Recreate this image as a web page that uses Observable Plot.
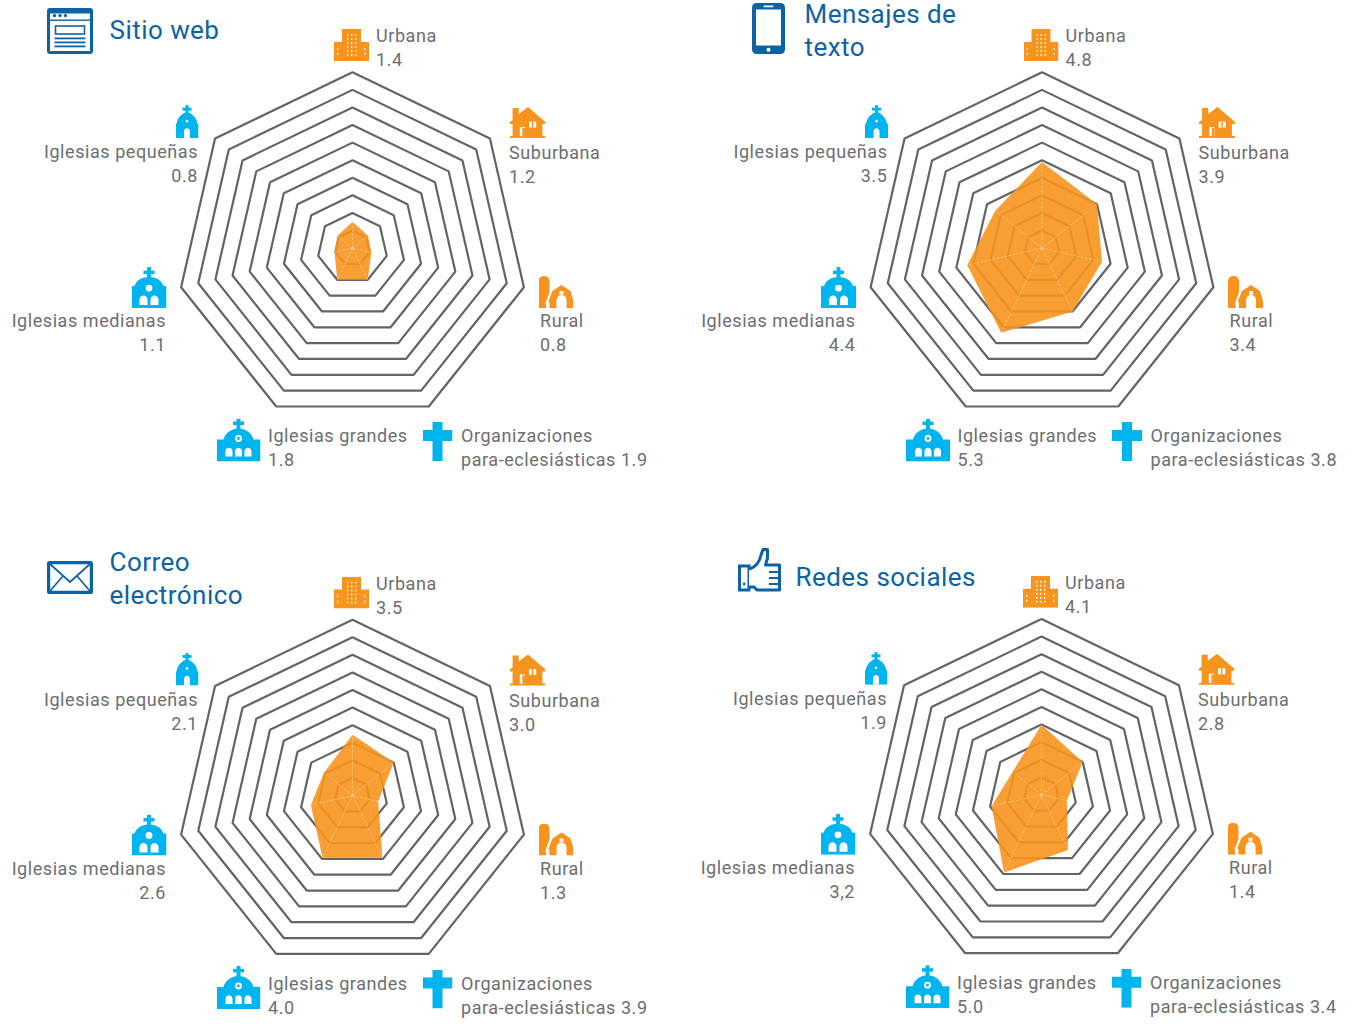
<!DOCTYPE html>
<html lang="es">
<head>
<meta charset="utf-8">
<script src="https://cdn.jsdelivr.net/npm/d3@7"></script>
<script src="https://cdn.jsdelivr.net/npm/@observablehq/plot@0.6"></script>
<style>
html,body{margin:0;padding:0;background:#fff}
svg{display:block}
g[font-size="18"] text{letter-spacing:.56px}
g[font-size="26"] text{letter-spacing:.46px}
</style>
</head>
<body>
<div id="chart"></div>
<script>
const categories = ["Urbana","Suburbana","Rural","Organizaciones\npara-eclesiásticas","Iglesias grandes","Iglesias medianas","Iglesias pequeñas"];
const panelNames = ["Sitio web","Mensajes de\ntexto","Correo\nelectrónico","Redes sociales"];
// values printed next to the axes
const sitioWeb = [1.4,1.2,0.8,1.9,1.8,1.1,0.8];
const mensajesDeTexto = [4.8,3.9,3.4,3.8,5.3,4.4,3.5];
const correoElectronico = [3.5,3.0,1.3,3.9,4.0,2.6,2.1];
const redesSociales = [4.1,2.8,1.4,3.4,5.0,3.2,1.9];
// radii of the orange shapes (they differ a little from the printed values)
const sitioWebShape = [1.5,1.13,1.1,2.0,2.0,1.05,1.1];
const mensajesShape = [4.9,4.0,3.5,4.0,5.35,4.36,3.4];
const correoShape = [3.45,3.0,1.5,3.92,3.93,2.43,2.07];
const redesShape = [3.98,3.0,1.48,3.48,4.91,2.91,2.1];
const ringLevels = [1,2,3,4,5,6,7,8,9,10];

const W = 1354, H = 1024, U = 17.58;
const ORANGE = "#f7941d", CYAN = "#00b5ef", BLUE = "#0b63a5", GREY = "#6d6e71", RING = "#636466";
const printed = [sitioWeb, mensajesDeTexto, correoElectronico, redesSociales];
const shapes = [sitioWebShape, mensajesShape, correoShape, redesShape];
const centers = [[352,247.6],[1041.5,247.6],[352,795],[1041,794.3]];
const pt = (p, v, k) => {
  const a = 2*Math.PI*k/7;
  return {x:(centers[p][0])/U + v*Math.sin(a), y:(centers[p][1])/U - v*Math.cos(a)};
};
const fmt = (p, k, v) => (p===3 && k===5) ? v.toFixed(1).replace(".",",") : v.toFixed(1);

// ---- icons
const uri = (w,h,body) => "data:image/svg+xml," + encodeURIComponent(`<svg xmlns="http://www.w3.org/2000/svg" viewBox="0 0 ${w} ${h}">${body}</svg>`);
const icoUrbana = uri(35,32,`<path fill="${ORANGE}" d="M0 13H8V0H27V13H35V32H0Z"/><g fill="#fff" opacity=".85"><rect x="13" y="5" width="1.4" height="2"/><rect x="17" y="5" width="1.4" height="2"/><rect x="21" y="5" width="1.4" height="2"/><rect x="13" y="9" width="1.4" height="2"/><rect x="17" y="9" width="1.4" height="2"/><rect x="21" y="9" width="1.4" height="2"/><rect x="13" y="13" width="1.4" height="2"/><rect x="17" y="13" width="1.4" height="2"/><rect x="21" y="13" width="1.4" height="2"/><rect x="13" y="17" width="1.4" height="2"/><rect x="17" y="17" width="1.4" height="2"/><rect x="21" y="17" width="1.4" height="2"/><rect x="13" y="21" width="1.4" height="2"/><rect x="17" y="21" width="1.4" height="2"/><rect x="21" y="21" width="1.4" height="2"/><rect x="13" y="25" width="1.4" height="2"/><rect x="17" y="25" width="1.4" height="2"/><rect x="21" y="25" width="1.4" height="2"/><rect x="3" y="19" width="1.4" height="2"/><rect x="3" y="24" width="1.4" height="2"/><rect x="30" y="19" width="1.4" height="2"/><rect x="30" y="24" width="1.4" height="2"/></g>`);
const icoSuburbana = uri(35,32,`<path fill="${ORANGE}" d="M0 15L3 13V1H9V7L18 0L35 15V17H32V29H35V31H0V29H3V17H0Z"/><rect x="10" y="20" width="5" height="9" fill="#fff"/><rect x="12.5" y="21" width="2.5" height="8" fill="${ORANGE}"/><rect x="19" y="14.5" width="7" height="6" fill="#fff"/><rect x="21.8" y="14.5" width="1.4" height="6" fill="${ORANGE}"/>`);
const icoRural = uri(35,32,`<path fill="${ORANGE}" d="M0 32V6C0 2 2 0 5.5 0C9 0 11 2 11 6V16L7 27L8 32Z"/><path fill="${ORANGE}" d="M10 25L14 15L23 9L32 15L35 25V32H28V24A5 5 0 0 0 18 24V32H11V27Z"/><rect x="21" y="15" width="4" height="3.5" fill="#fff"/>`);
const icoSmall = uri(23,33,`<g fill="${CYAN}"><rect x="10" y="0" width="3" height="9"/><rect x="7" y="2.5" width="9" height="3"/><path d="M0 33V19H1C2 12 7 8 11.5 7C16 8 21 12 22 19H23V33Z"/></g><circle cx="11.5" cy="16" r="1.3" fill="#fff"/><path fill="#fff" d="M8.5 33V27C8.5 22 14.5 22 14.5 27V33Z"/>`);
const icoMedium = uri(35,41,`<g fill="${CYAN}"><rect x="15.5" y="0" width="4" height="12"/><rect x="12" y="3.5" width="11" height="3.5"/><path d="M0 41V19H3C5 13 11 10 17.5 10C24 10 30 13 32 19H35V41Z"/></g><circle cx="17.5" cy="21" r="3.4" fill="#fff"/><path fill="#fff" d="M8 38V33C8 27 16 27 16 33V38ZM19 38V33C19 27 27 27 27 33V38Z"/>`);
const icoLarge = uri(44,43,`<g fill="${CYAN}"><rect x="20" y="0" width="4" height="11"/><rect x="16.5" y="3" width="11" height="3.5"/><path d="M0 43V21H7C9 14 15 10 22 10C29 10 35 14 37 21H44V43Z"/></g><circle cx="22" cy="20" r="3.4" fill="#fff"/><circle cx="22" cy="20" r="1.4" fill="${CYAN}"/><path fill="#fff" d="M9 38V33C9 28 16 28 16 33V38ZM18.5 38V33C18.5 28 25.5 28 25.5 33V38ZM28 38V33C28 28 35 28 35 33V38Z"/>`);
const icoCross = uri(30,39,`<path fill="${CYAN}" d="M10 0H20V8H30V19H20V39H10V19H0V8H10Z"/>`);
const icoWeb = uri(46,46,`<rect x="1.5" y="1.5" width="43" height="43" rx="1.5" fill="#fff" stroke="${BLUE}" stroke-width="3"/><rect x="2" y="2" width="42" height="3.5" fill="${BLUE}"/><rect x="2" y="11.5" width="42" height="1.4" fill="${BLUE}"/><circle cx="7.5" cy="7.6" r="1.7" fill="${BLUE}"/><circle cx="13" cy="7.6" r="1.7" fill="${BLUE}"/><circle cx="18.5" cy="7.6" r="1.7" fill="${BLUE}"/><rect x="8.5" y="18" width="29" height="8" fill="none" stroke="${BLUE}" stroke-width="1.6"/><rect x="7.5" y="29.5" width="31" height="1.8" fill="${BLUE}"/><rect x="7.5" y="33.5" width="31" height="1.8" fill="${BLUE}"/><rect x="7.5" y="37.5" width="31" height="1.8" fill="${BLUE}"/>`);
const icoPhone = uri(33,51,`<rect width="33" height="51" rx="4.5" fill="${BLUE}"/><rect x="4" y="6.5" width="25" height="36" fill="#fff"/><rect x="11.5" y="2.6" width="10" height="1.6" rx=".8" fill="#fff"/><circle cx="16.5" cy="46.8" r="2" fill="#fff"/>`);
const icoMail = uri(46,33,`<rect x="1.6" y="1.6" width="42.8" height="29.8" rx="1" fill="none" stroke="${BLUE}" stroke-width="3.2"/><path d="M3 3L23 21L43 3M3 30L16 15M43 30L30 15" fill="none" stroke="${BLUE}" stroke-width="1.7"/>`);
const icoThumb = uri(43,44,`<path d="M1.5 18H11V42H1.5Z" fill="none" stroke="${BLUE}" stroke-width="3"/><circle cx="6.2" cy="36" r="1.4" fill="${BLUE}"/><path d="M11 21C18 19 22 13 23 7L25 1.5H29.5V10L27.5 17H41.5V42H19L16 39H11" fill="#fff" stroke="${BLUE}" stroke-width="3" stroke-linejoin="round"/><path d="M31 24H41M31 30H41M31 36H41" stroke="${BLUE}" stroke-width="2"/>`);

// px-based layout of text and pictograms, relative to the Sitio web panel's centre
const labelLayout = [
  {dx: 23.5, dy:-201.6, anchor:"start"},
  {dx:156.5, dy: -84.6, anchor:"start"},
  {dx:187.5, dy:  83.4, anchor:"start"},
  {dx:108.5, dy: 198.4, anchor:"start"},
  {dx:-84.5, dy: 198.4, anchor:"start"},
  {dx:-186.5,dy:  83.4, anchor:"end"},
  {dx:-154.5,dy: -85.6, anchor:"end"}
];
const catIcons = [
  {src:icoUrbana,    x:333.5, y:28.6,  w:35, h:32},
  {src:icoSuburbana, x:509, y:106.6, w:36, h:32},
  {src:icoRural,     x:538, y:275.6, w:35, h:32},
  {src:icoCross,     x:422, y:421.6, w:30, h:39},
  {src:icoLarge,     x:216, y:418, w:44, h:43},
  {src:icoMedium,    x:131, y:266.6, w:35, h:41},
  {src:icoSmall,     x:175, y:104.6, w:23, h:33}
];
const titleLayout = [
  {x:109, y:28,  icon:icoWeb,   ix:46.5,  iy:7.5,   iw:46, ih:46},
  {x:804, y:28.5,icon:icoPhone, ix:751.5, iy:2.5,   iw:33, ih:51},
  {x:109, y:576.8, icon:icoMail,  ix:46.5,  iy:560.5, iw:46, ih:33},
  {x:795, y:575, icon:icoThumb, ix:737.5, iy:547.5, iw:43, ih:44}
];

// ---- tables
const rings = [], spokes = [], polys = [], labels = [], icons = [], titles = [];
centers.forEach((c,p) => {
  ringLevels.forEach(r => categories.forEach((_,k) => rings.push({...pt(p,r,k), id:p+"-"+r})));
  printed[p].forEach((v,k) => {
    const s = pt(p, shapes[p][k], k);
    polys.push({...s, p});
    spokes.push({...pt(p,0,k), x2:s.x, y2:s.y});
    const cat = categories[k], L = labelLayout[k];
    const text = cat.includes("\n") ? cat + " " + fmt(p,k,v) : cat + "\n" + fmt(p,k,v);
    labels.push({x:(c[0]+L.dx)/U, y:(c[1]+L.dy)/U, text, anchor:L.anchor});
    const I = catIcons[k];
    icons.push({src:I.src, x:(c[0]-centers[0][0]+I.x+I.w/2)/U, y:(c[1]-centers[0][1]+I.y+I.h/2)/U, w:I.w, h:I.h});
  });
  const T = titleLayout[p];
  titles.push({x:T.x/U, y:T.y/U, text:panelNames[p]});
  icons.push({src:T.icon, x:(T.ix+T.iw/2)/U, y:(T.iy+T.ih/2)/U, w:T.iw, h:T.ih});
});

const labelMark = a => Plot.text(labels.filter(d=>d.anchor===a), {
  x:"x", y:"y", text:"text", textAnchor:a, lineAnchor:"middle",
  fontSize:18, lineHeight:24/18, fill:GREY
});

const chart = Plot.plot({
  width:W, height:H, margin:0,
  style:{background:"#fff", fontFamily:"Roboto, sans-serif", overflow:"visible"},
  x:{domain:[0,W/U], range:[0,W], axis:null},
  y:{domain:[0,H/U], range:[0,H], axis:null},
  marks:[
    Plot.line(rings, {x:"x", y:"y", z:"id", curve:"linear-closed", stroke:RING, strokeWidth:2.2, strokeLinejoin:"miter"}),
    Plot.line(polys, {x:"x", y:"y", z:"p", curve:"linear-closed", fill:ORANGE, fillOpacity:.9, stroke:"none"}),
    Plot.link(spokes, {x1:"x", y1:"y", x2:"x2", y2:"y2", stroke:"#fff", strokeOpacity:.5, strokeWidth:.7, strokeDasharray:"2.5,1.5"}),
    Plot.image(icons, {x:"x", y:"y", src:"src", width:"w", height:"h", preserveAspectRatio:"none"}),
    labelMark("start"),
    labelMark("end"),
    Plot.text(titles, {x:"x", y:"y", text:"text", textAnchor:"start", lineAnchor:"middle", fontSize:26, lineHeight:33/26, fill:BLUE})
  ]
});
document.getElementById("chart").append(chart);
</script>
</body>
</html>
